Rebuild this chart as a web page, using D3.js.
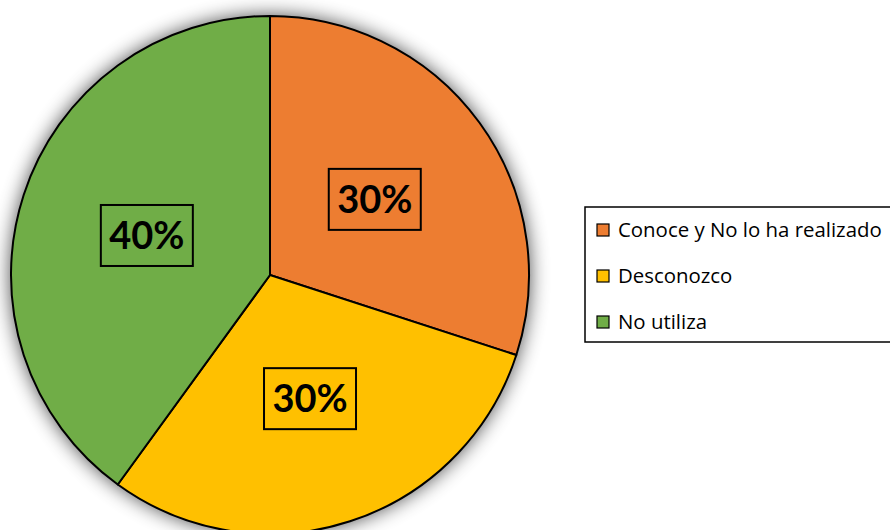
<!DOCTYPE html>
<html>
<head>
<meta charset="utf-8">
<script src="https://cdn.jsdelivr.net/npm/d3@7"></script>
<style>
  html, body { margin: 0; padding: 0; background: #fff; }
  svg { display: block; }
</style>
</head>
<body>
<svg id="chart" width="890" height="530"></svg>
<script>
// Survey answers and their shares
const categories = ["Conoce y No lo ha realizado", "Desconozco", "No utiliza"];
const shares = [30, 30, 40];
const labels = ["30%", "30%", "40%"];
const colors = ["#ED7D31", "#FFC000", "#70AD47"];

const svg = d3.select("#chart");
const cx = 270, cy = 275, R = 259;

// soft glow-like shadow around the pie
const defs = svg.append("defs");
const f = defs.append("filter").attr("id", "shadow")
  .attr("x", "-25%").attr("y", "-25%").attr("width", "150%").attr("height", "150%");
f.append("feGaussianBlur").attr("in", "SourceAlpha").attr("stdDeviation", 10).attr("result", "b");
f.append("feComponentTransfer").attr("in", "b").attr("result", "c")
  .append("feFuncA").attr("type", "linear").attr("slope", 0.75);

const pie = d3.pie().sort(null).value(d => d);
const arcs = pie(shares);
const arc = d3.arc().innerRadius(0).outerRadius(R);
const labelArc = d3.arc().innerRadius(R * 0.5).outerRadius(R * 0.5);

const g = svg.append("g").attr("transform", `translate(${cx},${cy})`);

g.append("circle").attr("r", R).attr("fill", "#000").attr("filter", "url(#shadow)");

g.selectAll("path.slice").data(arcs).join("path")
  .attr("class", "slice")
  .attr("d", arc)
  .attr("fill", (d, i) => colors[i])
  .attr("stroke", "#000")
  .attr("stroke-width", 2)
  .attr("stroke-linejoin", "round");

// value labels with a framed box
const lab = g.selectAll("g.lab").data(arcs).join("g")
  .attr("class", "lab")
  .attr("transform", d => `translate(${labelArc.centroid(d)})`);
lab.append("rect")
  .attr("x", -46).attr("y", -30).attr("width", 92).attr("height", 61)
  .attr("fill", "none").attr("stroke", "#000").attr("stroke-width", 2);
lab.append("text")
  .attr("text-anchor", "middle")
  .attr("dy", "0.36em")
  .attr("font-family", "Lato, 'Open Sans', sans-serif")
  .attr("font-weight", "bold")
  .attr("font-size", 38)
  .attr("fill", "#000")
  .text((d, i) => labels[i]);

// legend
const lg = svg.append("g");
lg.append("rect")
  .attr("x", 585).attr("y", 207).attr("width", 320).attr("height", 135)
  .attr("fill", "#fff").attr("stroke", "#000").attr("stroke-width", 1.5);
const rowY = [230, 276, 322];
const items = lg.selectAll("g.item").data(categories).join("g")
  .attr("class", "item")
  .attr("transform", (d, i) => `translate(597,${rowY[i]})`);
items.append("rect")
  .attr("x", 0).attr("y", -6).attr("width", 12).attr("height", 12)
  .attr("fill", (d, i) => colors[i]).attr("stroke", "#000").attr("stroke-width", 1.2);
items.append("text")
  .attr("x", 21).attr("dy", "0.35em")
  .attr("font-family", "'Open Sans', Lato, sans-serif")
  .attr("font-size", 20.4)
  .attr("fill", "#000")
  .text(d => d);
</script>
</body>
</html>
